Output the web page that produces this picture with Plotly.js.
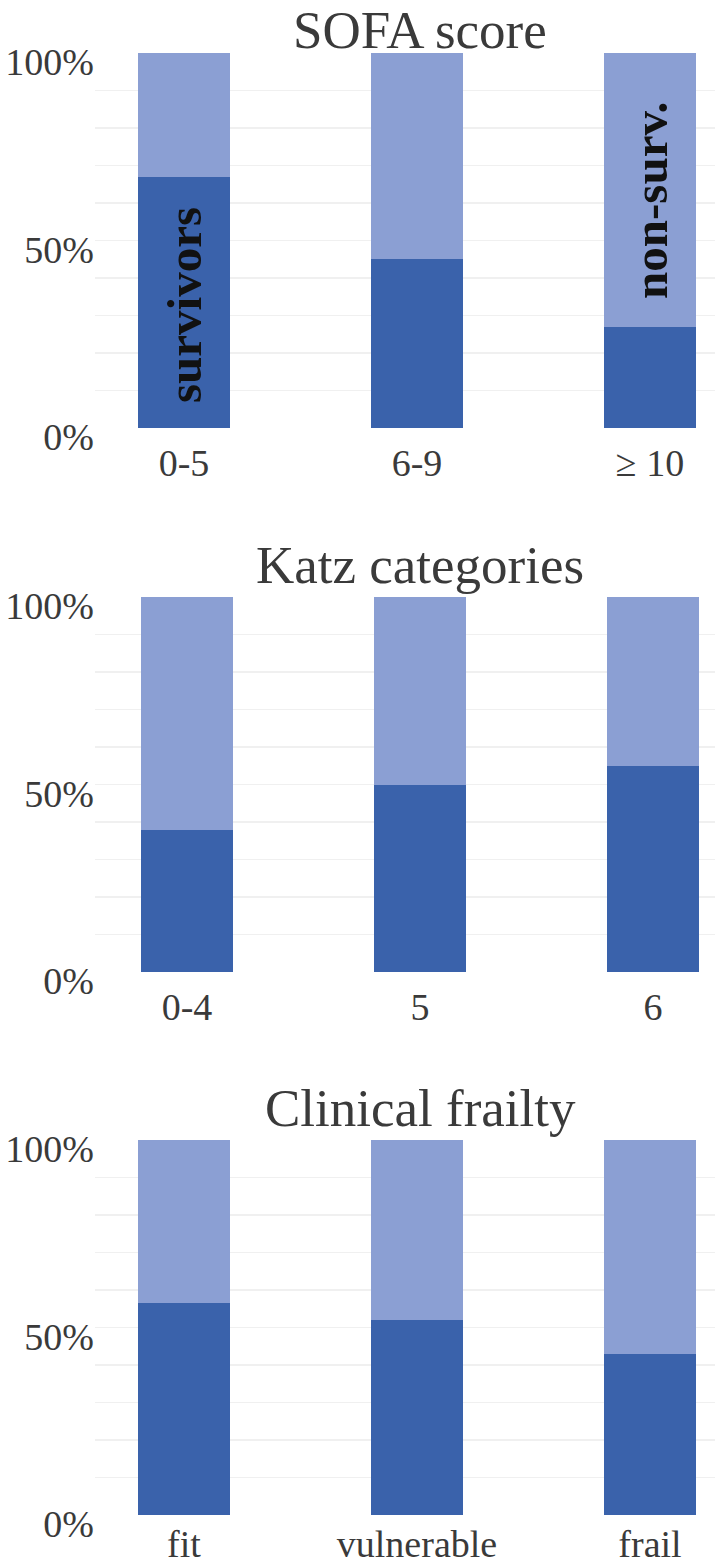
<!DOCTYPE html>
<html>
<head>
<meta charset="utf-8">
<script src="https://cdn.plot.ly/plotly-3.0.1.min.js"></script>
<style>
html,body{margin:0;padding:0;background:#fff;}
#chart{width:715px;height:1566px;}
</style>
</head>
<body>
<div id="chart"></div>
<script>
// ---- data ----
const sofaCats = ['0-5', '6-9', '\u2265 10'];
const sofaSurvivors = [67, 45, 27];
const sofaNonSurvivors = [33, 55, 73];

const katzCats = ['0-4', '5', '6'];
const katzSurvivors = [38, 50, 55];
const katzNonSurvivors = [62, 50, 45];

const frailCats = ['fit', 'vulnerable', 'frail'];
const frailSurvivors = [56.5, 52, 43];
const frailNonSurvivors = [43.5, 48, 57];

const panelTitles = ['SOFA score', 'Katz categories', 'Clinical frailty'];
const yTickVals = [0, 10, 20, 30, 40, 50, 60, 70, 80, 90, 100];
const yTickText = ['0%', '', '', '', '', '50%', '', '', '', '', '100%'];

// ---- styling ----
const darkBlue = '#3A62AB';
const lightBlue = '#8B9FD3';
const textColor = '#3a3a3a';
const serif = 'Liberation Serif, Times New Roman, serif';
const barW = 0.395;

const W = 715, H = 1566;
// pixel positions of each panel (top of 100%, bottom at 0%)
const panelPx = [[53, 428], [597, 972], [1140, 1515]];
const xRanges = [[-0.382, 2.279], [-0.395, 2.266], [-0.382, 2.279]];
const xStandoff = [9, 9, 3];

const cats = [sofaCats, katzCats, frailCats];
const surv = [sofaSurvivors, katzSurvivors, frailSurvivors];
const nonsurv = [sofaNonSurvivors, katzNonSurvivors, frailNonSurvivors];

const data = [];
const layout = {
  width: W, height: H,
  margin: {l: 0, r: 0, t: 0, b: 0},
  paper_bgcolor: '#fff', plot_bgcolor: '#fff',
  barmode: 'stack',
  showlegend: false,
  font: {family: serif, color: textColor},
  annotations: []
};

for (let i = 0; i < 3; i++) {
  const xa = i === 0 ? 'x' : 'x' + (i + 1);
  const ya = i === 0 ? 'y' : 'y' + (i + 1);
  data.push({type: 'bar', x: cats[i], y: surv[i], xaxis: xa, yaxis: ya,
             width: barW, marker: {color: darkBlue}, hoverinfo: 'skip'});
  data.push({type: 'bar', x: cats[i], y: nonsurv[i], xaxis: xa, yaxis: ya,
             width: barW, marker: {color: lightBlue}, hoverinfo: 'skip'});
  const [top, bot] = panelPx[i];
  const xKey = i === 0 ? 'xaxis' : 'xaxis' + (i + 1);
  const yKey = i === 0 ? 'yaxis' : 'yaxis' + (i + 1);
  layout[xKey] = {
    domain: [95 / W, 1], anchor: ya, type: 'category',
    range: xRanges[i], showgrid: false, zeroline: false, showline: false,
    ticks: '', tickfont: {family: serif, size: 38, color: textColor},
    ticklabelstandoff: xStandoff[i], fixedrange: true
  };
  layout[yKey] = {
    domain: [1 - bot / H, 1 - top / H], anchor: xa,
    range: [0, 100], tickvals: yTickVals, ticktext: yTickText,
    showgrid: true, gridcolor: '#f0f0f0', gridwidth: 1.5,
    zeroline: false, showline: false, ticks: '',
    tickfont: {family: serif, size: 38, color: textColor},
    ticklabelshift: 9, ticklabelstandoff: 0, fixedrange: true
  };
  const ann = {
    text: panelTitles[i], xref: 'paper', yref: 'paper',
    x: 420 / W, xanchor: 'center', borderpad: 0,
    showarrow: false, font: {family: serif, size: 53, color: textColor}
  };
  if (i === 0) { ann.y = 1; ann.yanchor = 'top'; }
  else { ann.y = 1 - (top - 32) / H; ann.yanchor = 'middle'; }
  layout.annotations.push(ann);
}

// labels inside the first panel
layout.annotations.push({
  text: '<b>survivors</b>', xref: 'x', yref: 'y', x: sofaCats[0], y: 32.8,
  textangle: -90, showarrow: false, xanchor: 'center', yanchor: 'middle',
  font: {family: serif, size: 49, color: '#111'}
});
layout.annotations.push({
  text: '<b>non-surv.</b>', xref: 'x', yref: 'y', x: sofaCats[2], y: 60.8,
  textangle: -90, showarrow: false, xanchor: 'center', yanchor: 'middle',
  font: {family: serif, size: 49, color: '#111'}
});

Plotly.newPlot('chart', data, layout, {staticPlot: true, displayModeBar: false});
</script>
</body>
</html>
